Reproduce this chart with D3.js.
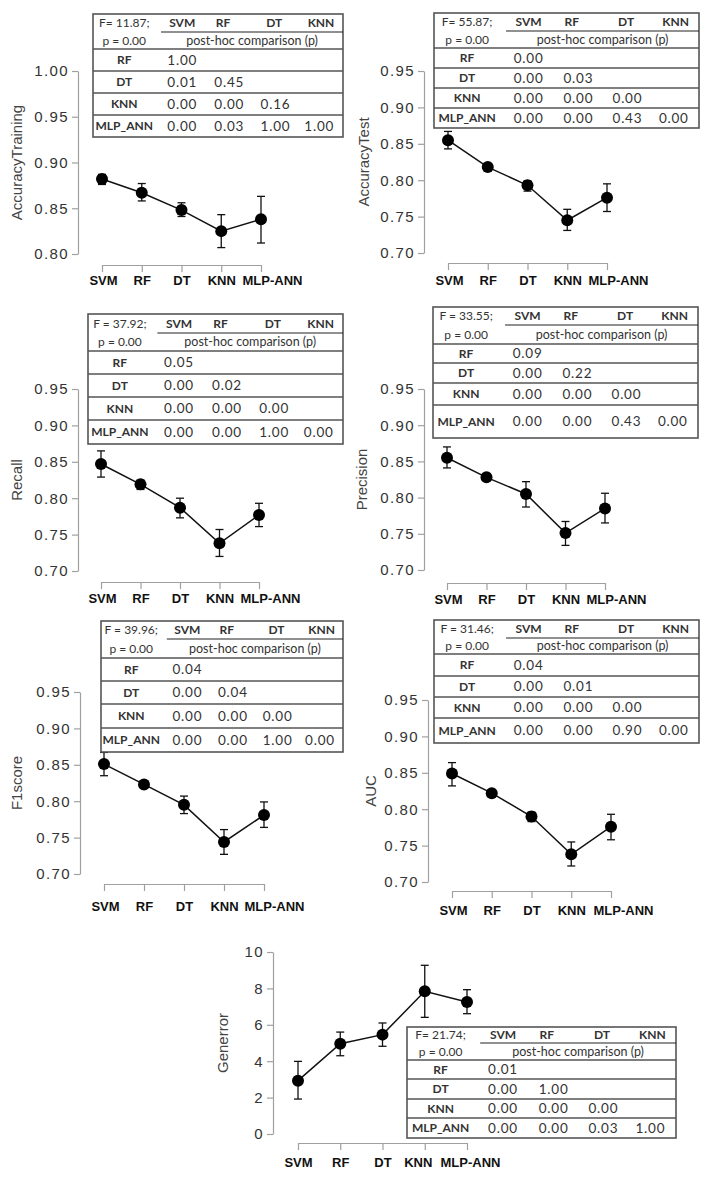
<!DOCTYPE html>
<html>
<head>
<meta charset="utf-8">
<script src="https://cdn.jsdelivr.net/npm/d3@7"></script>
<style>
  body { margin: 0; background: #fff; }
  svg { display: block; }
</style>
</head>
<body>
<div id="chart"></div>
<script>
// Categories and tick values.
const models = ["SVM", "RF", "DT", "KNN", "MLP-ANN"];
const tableCols = ["SVM", "RF", "DT", "KNN"];
const tableRows = ["RF", "DT", "KNN", "MLP_ANN"];
const scoreTicks = [0.70, 0.75, 0.80, 0.85, 0.90, 0.95];
const trainTicks = [0.80, 0.85, 0.90, 0.95, 1.00];
const errTicks = [0, 2, 4, 6, 8, 10];

// Means and error bar ends.
const accTrainMean = [0.882, 0.867, 0.848, 0.825, 0.838];
const accTrainLo = [0.876, 0.858, 0.841, 0.807, 0.812];
const accTrainHi = [0.887, 0.877, 0.856, 0.843, 0.863];

const accTestMean = [0.855, 0.818, 0.793, 0.745, 0.776];
const accTestLo = [0.843, 0.813, 0.785, 0.731, 0.757];
const accTestHi = [0.867, 0.822, 0.799, 0.760, 0.795];

const recallMean = [0.847, 0.819, 0.787, 0.738, 0.777];
const recallLo = [0.829, 0.812, 0.773, 0.720, 0.761];
const recallHi = [0.865, 0.825, 0.800, 0.757, 0.793];

const precisionMean = [0.855, 0.828, 0.805, 0.751, 0.785];
const precisionLo = [0.841, 0.824, 0.787, 0.734, 0.765];
const precisionHi = [0.870, 0.832, 0.822, 0.767, 0.806];

const f1Mean = [0.851, 0.823, 0.795, 0.744, 0.781];
const f1Lo = [0.835, 0.818, 0.783, 0.727, 0.764];
const f1Hi = [0.867, 0.828, 0.807, 0.761, 0.799];

const aucMean = [0.849, 0.822, 0.790, 0.738, 0.776];
const aucLo = [0.832, 0.817, 0.783, 0.722, 0.758];
const aucHi = [0.864, 0.826, 0.796, 0.755, 0.793];

const genMean = [2.93, 4.96, 5.46, 7.84, 7.25];
const genLo = [1.92, 4.30, 4.82, 6.41, 6.61];
const genHi = [3.99, 5.60, 6.10, 9.27, 7.93];

// ANOVA stats and post-hoc p values (lower triangle).
const fStats = ["F= 11.87;", "F= 55.87;", "F = 37.92;", "F = 33.55;", "F = 39.96;", "F = 31.46;", "F= 21.74;"];
const pStat = "p = 0.00";
const postHocTrain = [[1.00], [0.01, 0.45], [0.00, 0.00, 0.16], [0.00, 0.03, 1.00, 1.00]];
const postHocTest = [[0.00], [0.00, 0.03], [0.00, 0.00, 0.00], [0.00, 0.00, 0.43, 0.00]];
const postHocRecall = [[0.05], [0.00, 0.02], [0.00, 0.00, 0.00], [0.00, 0.00, 1.00, 0.00]];
const postHocPrecision = [[0.09], [0.00, 0.22], [0.00, 0.00, 0.00], [0.00, 0.00, 0.43, 0.00]];
const postHocF1 = [[0.04], [0.00, 0.04], [0.00, 0.00, 0.00], [0.00, 0.00, 1.00, 0.00]];
const postHocAuc = [[0.04], [0.00, 0.01], [0.00, 0.00, 0.00], [0.00, 0.00, 0.90, 0.00]];
const postHocGen = [[0.01], [0.00, 1.00], [0.00, 0.00, 0.00], [0.00, 0.00, 0.03, 1.00]];

const W = 712, H = 1177;
const svg = d3.select("#chart").append("svg").attr("width", W).attr("height", H);
svg.append("rect").attr("width", W).attr("height", H).attr("fill", "#fff");

const fmt = d3.format(".2f");

// Panel layout: axis positions in px, table box with row boundaries.
const panels = [
  { label: "AccuracyTraining", mean: accTrainMean, lo: accTrainLo, hi: accTrainHi, domain: [0.80, 1.00], ticks: trainTicks, tf: ".2f",
    ax: 78, yr: [254, 71], xr: [102, 261], xy: 265, ly: 280, labelDx: [1, 0, 0, 0, 11], lx: 17,
    tbl: { stat: fStats[0], vals: postHocTrain, x0: 93, x1: 343, ys: [14, 32, 49, 71, 93, 115, 137] } },
  { label: "AccuracyTest", mean: accTestMean, lo: accTestLo, hi: accTestHi, domain: [0.70, 0.95], ticks: scoreTicks, tf: ".2f",
    ax: 424, yr: [253, 71], xr: [448, 607], xy: 263, ly: 280, labelDx: [1, 0, 0, 0, 11], lx: 364,
    tbl: { stat: fStats[1], vals: postHocTest, x0: 434, x1: 699, ys: [13, 31, 48, 68, 88, 108, 128] } },
  { label: "Recall", mean: recallMean, lo: recallLo, hi: recallHi, domain: [0.70, 0.95], ticks: scoreTicks, tf: ".2f",
    ax: 78, yr: [571, 389], xr: [101, 259], xy: 582, ly: 598, labelDx: [1, 0, 0, 0, 11], lx: 17,
    tbl: { stat: fStats[2], vals: postHocRecall, x0: 88, x1: 343, ys: [314, 333, 351, 374, 397, 420, 444] } },
  { label: "Precision", mean: precisionMean, lo: precisionLo, hi: precisionHi, domain: [0.70, 0.95], ticks: scoreTicks, tf: ".2f",
    ax: 424, yr: [570, 389], xr: [447, 605], xy: 583, ly: 599, labelDx: [1, 0, 0, 0, 11], lx: 362,
    tbl: { stat: fStats[3], vals: postHocPrecision, x0: 433, x1: 698, ys: [307, 325, 344, 363, 383, 405, 438] } },
  { label: "F1score", mean: f1Mean, lo: f1Lo, hi: f1Hi, domain: [0.70, 0.95], ticks: scoreTicks, tf: ".2f",
    ax: 80, yr: [874, 692], xr: [104, 264], xy: 884, ly: 906, labelDx: [1, 0, 0, 0, 10], lx: 17,
    tbl: { stat: fStats[4], vals: postHocF1, x0: 101, x1: 343, ys: [621, 639, 658, 681, 704, 728, 752] } },
  { label: "AUC", mean: aucMean, lo: aucLo, hi: aucHi, domain: [0.70, 0.95], ticks: scoreTicks, tf: ".2f",
    ax: 428, yr: [882, 700], xr: [452, 611], xy: 891, ly: 910, labelDx: [1, 0, 0, 0, 12], lx: 371,
    tbl: { stat: fStats[5], vals: postHocAuc, x0: 434, x1: 699, ys: [620, 638, 654, 676, 697, 718, 743] } },
  { label: "Generror", mean: genMean, lo: genLo, hi: genHi, domain: [0, 10], ticks: errTicks, tf: "d",
    ax: 273, yr: [1134, 952], xr: [298, 467], xy: 1143, ly: 1162, labelDx: [0, 0, 0, -7, 3], lx: 223,
    tbl: { stat: fStats[6], vals: postHocGen, x0: 407, x1: 676, ys: [1027, 1043, 1060, 1079, 1099, 1118, 1138] } }
];

panels.forEach(p => {
  const g = svg.append("g");

  const x = d3.scalePoint().domain(models).range(p.xr);
  const y = d3.scaleLinear().domain(p.domain).range(p.yr);

  // Y axis
  g.append("g")
    .attr("transform", `translate(${p.ax},0)`)
    .call(d3.axisLeft(y).tickValues(p.ticks).tickFormat(d3.format(p.tf)).tickSize(6).tickSizeOuter(0).tickPadding(3))
    .call(a => a.selectAll("path, line").attr("stroke", "#a0a0a0").attr("stroke-width", 1.2))
    .call(a => a.selectAll("text")
      .attr("fill", "#333")
      .style("font-family", "'Liberation Sans', Arial, sans-serif")
      .style("font-size", "15px")
      .style("letter-spacing", "1.4px"));

  // X axis
  g.append("g")
    .attr("transform", `translate(0,${p.xy})`)
    .call(d3.axisBottom(x).tickSize(7).tickSizeOuter(0))
    .call(a => a.selectAll("path, line").attr("stroke", "#a0a0a0").attr("stroke-width", 1.2))
    .call(a => a.selectAll("text")
      .attr("y", p.ly - p.xy)
      .attr("dy", "0.36em")
      .attr("dx", (d, i) => p.labelDx[i])
      .attr("fill", "#111")
      .style("font-family", "'Liberation Sans', Arial, sans-serif")
      .style("font-weight", "bold")
      .style("font-size", "13px"));

  // Y label
  g.append("text")
    .attr("transform", `translate(${p.lx},${(p.yr[0] + p.yr[1]) / 2}) rotate(-90)`)
    .attr("text-anchor", "middle")
    .attr("dy", "0.35em")
    .attr("fill", "#444")
    .style("font-family", "'Liberation Sans', Arial, sans-serif")
    .style("font-size", "15px")
    .text(p.label);

  const pts = models.map((m, i) => ({ m, v: p.mean[i], lo: p.lo[i], hi: p.hi[i] }));

  // Error bars
  const eb = g.append("g").attr("stroke", "#111").attr("stroke-width", 1.3);
  eb.selectAll(".stem").data(pts).enter().append("line")
    .attr("x1", d => x(d.m)).attr("x2", d => x(d.m))
    .attr("y1", d => y(d.lo)).attr("y2", d => y(d.hi));
  eb.selectAll(".capT").data(pts).enter().append("line")
    .attr("x1", d => x(d.m) - 4).attr("x2", d => x(d.m) + 4)
    .attr("y1", d => y(d.hi)).attr("y2", d => y(d.hi));
  eb.selectAll(".capB").data(pts).enter().append("line")
    .attr("x1", d => x(d.m) - 4).attr("x2", d => x(d.m) + 4)
    .attr("y1", d => y(d.lo)).attr("y2", d => y(d.lo));

  // Mean line and points
  g.append("path")
    .datum(pts)
    .attr("fill", "none")
    .attr("stroke", "#111")
    .attr("stroke-width", 1.5)
    .attr("d", d3.line().x(d => x(d.m)).y(d => y(d.v)));

  g.selectAll("circle").data(pts).enter().append("circle")
    .attr("cx", d => x(d.m)).attr("cy", d => y(d.v))
    .attr("r", 6)
    .attr("fill", "#000");

  drawTable(p.tbl);
});

function drawTable(t) {
  const g = svg.append("g");
  const w = t.x1 - t.x0;
  const ys = t.ys;
  const colX = f => t.x0 + w * f;
  const labelC = colX(0.125);
  const headC = [0.357, 0.52, 0.725, 0.912].map(colX);
  const valC = [0.357, 0.545, 0.73, 0.905].map(colX);
  const font = "Lato, 'Open Sans', sans-serif";

  g.append("rect")
    .attr("x", t.x0).attr("y", ys[0])
    .attr("width", w).attr("height", ys[6] - ys[0])
    .attr("fill", "#fff").attr("stroke", "#555").attr("stroke-width", 1.6);

  // Row separators
  g.selectAll(".sep").data(ys.slice(2, 6)).enter().append("line")
    .attr("x1", t.x0).attr("x2", t.x1)
    .attr("y1", d => d).attr("y2", d => d)
    .attr("stroke", "#555").attr("stroke-width", 1.6);

  // Header underline
  g.append("line")
    .attr("x1", colX(0.272)).attr("x2", t.x1)
    .attr("y1", ys[1]).attr("y2", ys[1])
    .attr("stroke", "#222").attr("stroke-width", 1.2);

  const txt = (xp, yp, s, opts = {}) => g.append("text")
    .attr("x", xp).attr("y", yp)
    .attr("text-anchor", "middle")
    .attr("dy", "0.35em")
    .attr("fill", "#333")
    .style("font-family", font)
    .style("font-size", (opts.size || 12) + "px")
    .style("font-weight", opts.bold ? "bold" : "normal")
    .style("letter-spacing", (opts.ls || 0) + "px")
    .text(s);

  const h1 = (ys[0] + ys[1]) / 2, h2 = (ys[1] + ys[2]) / 2;
  txt(labelC, h1, t.stat, { size: 12 });
  txt(labelC, h2, pStat, { size: 12 });
  tableCols.forEach((c, i) => txt(headC[i], h1, c, { bold: true, size: 12 }));
  txt((colX(0.272) + t.x1) / 2, h2, "post-hoc comparison (p)", { size: 12.5 });

  tableRows.forEach((r, ri) => {
    const cy = (ys[ri + 2] + ys[ri + 3]) / 2;
    txt(labelC, cy, r, { bold: true, size: 12 });
    t.vals[ri].forEach((v, ci) => txt(valC[ci], cy, fmt(v), { size: 13.5, ls: 0.8 }));
  });
}
</script>
</body>
</html>
